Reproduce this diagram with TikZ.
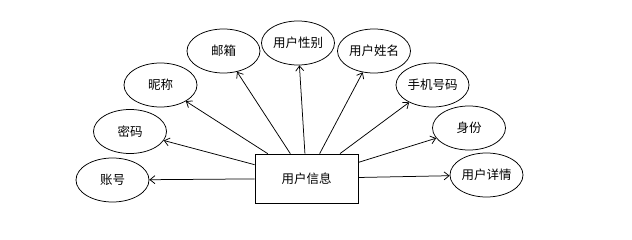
\documentclass[tikz,border=0pt]{standalone}
\usepackage{fontspec}
\setmainfont{Noto Sans CJK SC}
\usetikzlibrary{arrows.meta,shapes.geometric}
\tikzset{every picture/.style={line width=0.75pt}}
\tikzset{
    attr/.style={draw, ellipse, minimum width=73pt, minimum height=44pt, inner sep=0pt, font=\fontsize{12.5}{14}\selectfont},
    entity/.style={draw, rectangle, minimum width=103pt, minimum height=49pt, inner sep=0pt, font=\fontsize{12.5}{14}\selectfont},
    link/.style={-{Straight Barb[length=5pt,width=8pt]}}
}
\begin{document}
\begin{tikzpicture}[x=1pt, y=-1pt]
    \useasboundingbox (0,0) rectangle (632,240);
    % 实体
    \node[entity] (info) at (306.5,178.5) {用户信息};

    % 属性
    \node[attr] (account) at (112.5,180) {账号};
    \node[attr] (password) at (130,131.5) {密码};
    \node[attr] (nickname) at (160.5,85) {昵称};
    \node[attr] (email) at (223.5,51) {邮箱};
    \node[attr] (gender) at (298,43) {用户性别};
    \node[attr] (realname) at (374,51) {用户姓名};
    \node[attr] (phone) at (432.5,85) {手机号码};
    \node[attr] (identity) at (469,128) {身份};
    \node[attr] (detail) at (486.5,175) {用户详情};

    % 连线
    \draw[link] (info) -- (account);
    \draw[link] (info) -- (password);
    \draw[link] (info) -- (nickname);
    \draw[link] (info) -- (email);
    \draw[link] (info) -- (gender);
    \draw[link] (info) -- (realname);
    \draw[link] (info) -- (phone);
    \draw[link] (info) -- (identity);
    \draw[link] (info) -- (detail);
\end{tikzpicture}
\end{document}
